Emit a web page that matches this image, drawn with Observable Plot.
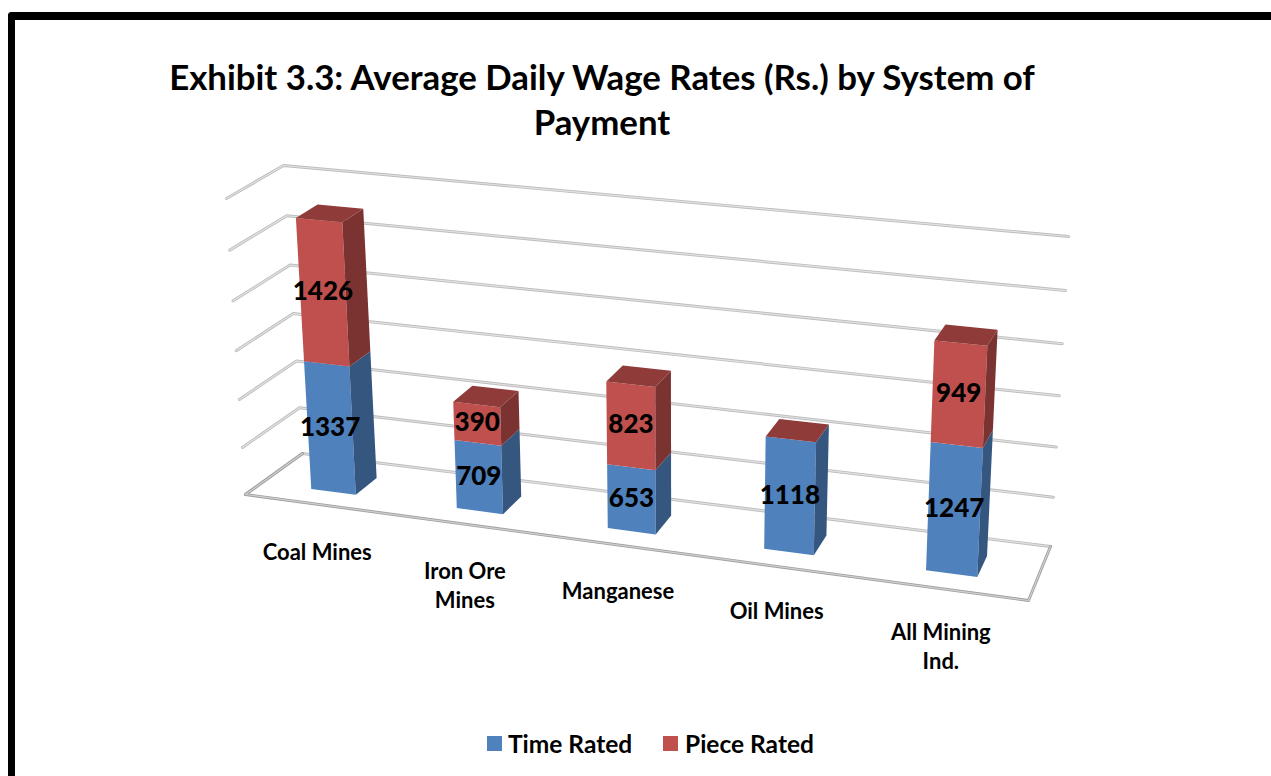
<!DOCTYPE html>
<html><head><meta charset="utf-8">
<script src="https://cdn.jsdelivr.net/npm/d3@7"></script>
<script src="https://cdn.jsdelivr.net/npm/@observablehq/plot@0.6"></script>
<style>
html,body{margin:0;padding:0;background:#fff;overflow:hidden;width:1271px;height:776px;font-family:Lato,sans-serif;color:#000}
#frame{position:absolute;left:8px;top:12px;width:1400px;height:900px;border-left:7.5px solid #000;border-top:8px solid #000;border-top-left-radius:4px;box-sizing:border-box}
#title{position:absolute;left:0;top:54px;width:1204px;text-align:center;font-weight:700;font-size:34.8px;line-height:45px}
#chart{position:absolute;left:0;top:140px}
#legend{position:absolute;left:0;top:730px;width:1271px;height:28px;font-weight:700;font-size:24.5px;line-height:28px}
#legend span{position:absolute;top:0;white-space:nowrap}
#legend i{position:absolute;top:6px;width:15px;height:15px;display:block}
</style></head>
<body>
<div id="frame"></div>
<div id="title">Exhibit 3.3: Average Daily Wage Rates (Rs.) by System of<br>Payment</div>
<div id="chart"></div>
<div id="legend"></div>
<script>
const categories = ["Coal Mines", "Iron Ore\nMines", "Manganese", "Oil Mines", "All Mining\nInd."];
const timeRated = [1337, 709, 653, 1118, 1247];
const pieceRated = [1426, 390, 823, 0, 949];
const gridValues = [0, 500, 1000, 1500, 2000, 2500, 3000];
const seriesNames = ["Time Rated", "Piece Rated"];
const palette = {
  "Time Rated": {front: "#4f81bd", side: "#34567f"},
  "Piece Rated": {front: "#c0504d", side: "#7b3331", top: "#8e3b39"}
};

// Oblique view box of the 3-D chart: value + depth + category -> drawing plane.
const maxValue = 3000;
const box = {
  floor: {fl: [245, 494], fr: [1028, 600], bl: [302, 453], br: [1050, 546]},
  roof:  {fl: [226, 198], fr: [1044, 272], bl: [283, 165], br: [1068, 236]}
};
const lerp = (a, b, t) => [a[0] + (b[0] - a[0]) * t, a[1] + (b[1] - a[1]) * t];
function project(u, v, value) {
  const t = value / maxValue;
  const U = u - 0.088 * u * (1 - u);
  const W = 0.944 * t + 0.056 * t * t;
  const at = (p) => lerp(lerp(p.fl, p.fr, U), lerp(p.bl, p.br, U), v);
  return lerp(at(box.floor), at(box.roof), W);
}
const pt = (u, v, value) => { const [x, y] = project(u, v, value); return {x, y}; };

const halfWidth = 0.031, v0 = 0.295, v1 = 0.69;
const faces = [];
const addFace = (id, fill, corners) => corners.forEach(c => faces.push({id, fill, ...pt(...c)}));
const valueLabels = [];
categories.forEach((name, i) => {
  const uc = (i + 0.5) / categories.length, a = uc - halfWidth, b = uc + halfWidth;
  let base = 0;
  [timeRated[i], pieceRated[i]].forEach((val, s) => {
    const top = base + val, col = palette[seriesNames[s]];
    if (val > 0) {
      addFace(`f${i}${s}`, col.front, [[a, v0, base], [b, v0, base], [b, v0, top], [a, v0, top]]);
      addFace(`s${i}${s}`, col.side, [[b, v0, base], [b, v1, base], [b, v1, top], [b, v0, top]]);
      valueLabels.push({text: String(val), ...pt(uc, v0, base + val / 2)});
    }
    base = top;
  });
  addFace(`t${i}`, palette["Piece Rated"].top, [[a, v0, base], [b, v0, base], [b, v1, base], [a, v1, base]]);
});

const gridLines = [];
gridValues.forEach(g => {
  [[0, 0], [0, 1], [1, 1]].forEach(([u, v]) => gridLines.push({id: g, ...pt(u, v, g)}));
});
const floorEdge = [[0, 1], [0, 0], [1, 0], [1, 1]].map(([u, v]) => pt(u, v, 0));
const catLabels = categories.map((text, i) => {
  const u = (i + 0.5) / categories.length, p = pt(u, 0, 0);
  return {text, x: p.x - 3.5 * u, y: p.y - 6 * u};
});

const chart = Plot.plot({
  width: 1271, height: 580,
  margin: 0,
  x: {domain: [0, 1271], range: [0, 1271], axis: null},
  y: {domain: [140, 720], range: [0, 580], axis: null},
  color: {type: "identity"},
  marks: [
    Plot.line(gridLines, {x: "x", y: "y", z: "id", stroke: "#bdbdbd", strokeWidth: 3, curve: "linear"}),
    Plot.line(gridLines, {x: "x", y: "y", z: "id", stroke: "#e2e2e2", strokeWidth: 1.2, curve: "linear"}),
    Plot.line(floorEdge, {x: "x", y: "y", stroke: "#a0a0a0", strokeWidth: 3, curve: "linear"}),
    Plot.line(floorEdge, {x: "x", y: "y", stroke: "#cfcfcf", strokeWidth: 1.2, curve: "linear"}),
    Plot.line(faces, {x: "x", y: "y", z: "id", fill: "fill", stroke: "none", curve: "linear-closed"}),
    Plot.text(valueLabels, {x: "x", y: "y", text: "text", dy: -1, fontFamily: "Lato", fontWeight: 900, fontSize: 26, fill: "#000"}),
    Plot.text(catLabels, {x: "x", y: "y", text: "text", dy: 36, lineAnchor: "top", lineHeight: 1.32, fontFamily: "Lato", fontWeight: 700, fontSize: 22, fill: "#000"})
  ]
});
document.getElementById("chart").append(chart);

const legend = document.getElementById("legend");
[[487, 508], [663, 685]].forEach(([sx, tx], i) => {
  const name = seriesNames[i];
  const sw = document.createElement("i");
  sw.style.left = sx + "px";
  sw.style.background = palette[name].front;
  const t = document.createElement("span");
  t.style.left = tx + "px";
  t.textContent = name;
  legend.append(sw, t);
});
</script>
</body></html>
